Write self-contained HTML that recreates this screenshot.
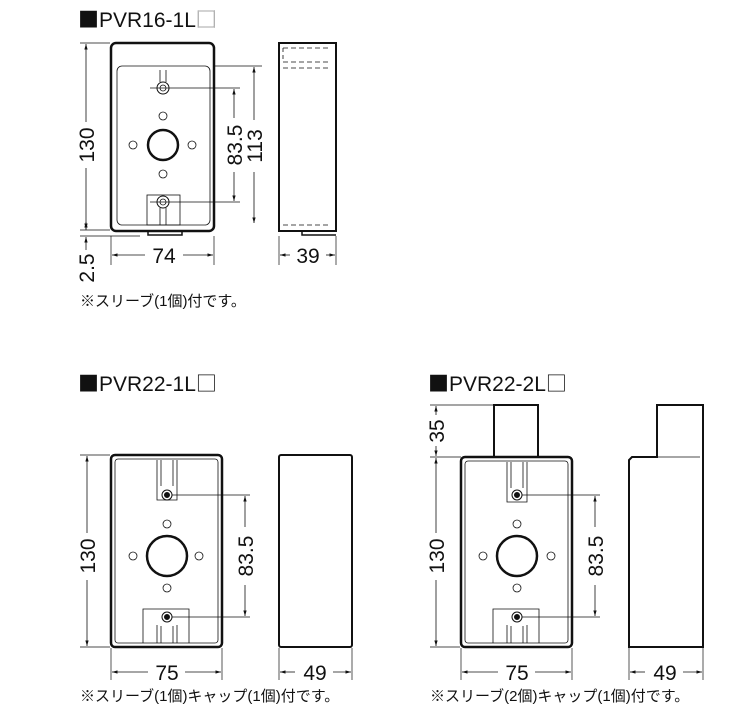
<!DOCTYPE html>
<html><head><meta charset="utf-8"><style>
html,body{margin:0;padding:0;background:#fff;width:750px;height:718px;overflow:hidden}
svg{display:block}
text{font-family:"Liberation Sans","Noto Sans CJK JP",sans-serif;fill:#111}
.n{font-size:21px}
.t{font-size:21px}
.sq{font-family:"Noto Sans CJK JP",sans-serif;font-size:21px}
.j{font-size:15px}
</style></head><body>
<svg width="750" height="718" viewBox="0 0 750 718" xmlns="http://www.w3.org/2000/svg">
<defs>
<marker id="a" viewBox="0 0 10 10" refX="10" refY="5" markerWidth="7" markerHeight="7" orient="auto-start-reverse"><path d="M0,2 L10,5 L0,8 z" fill="#111"/></marker>
</defs>
<g stroke="#111" fill="none">
<rect x="111" y="43" width="103" height="188" rx="5" stroke-width="2.5"/>
<rect x="117" y="66" width="93" height="159" rx="5" stroke-width="0.8"/>
<path d="M148 231 V235 H182 V231" stroke-width="1.5"/>
<rect x="147" y="195" width="33" height="30" stroke-width="0.8"/>
<path d="M160 70V82 M166 70V82 M160 208V225 M166 208V225" stroke-width="0.8"/>
<circle cx="163" cy="88" r="6" stroke-width="1"/><circle cx="163" cy="88" r="3" stroke-width="0.8"/>
<circle cx="163" cy="202" r="6" stroke-width="1"/><circle cx="163" cy="202" r="3" stroke-width="0.8"/>
<circle cx="163" cy="145" r="15" stroke-width="2.5"/>
<circle cx="163" cy="116" r="4" stroke-width="0.8"/><circle cx="163" cy="174" r="4" stroke-width="0.8"/>
<circle cx="133" cy="145" r="4" stroke-width="0.8"/><circle cx="192" cy="145" r="4" stroke-width="0.8"/>
<path d="M279 43 H336 V231 H279 Z" stroke-width="2"/>
<path d="M283 48 H330 M283 62 H330 M283 68 H330 M283 225 H330" stroke-width="0.8" stroke-dasharray="5,3"/>
<path d="M283 48 V62" stroke-width="0.8" stroke-dasharray="4,3"/>
<path d="M302 231 V235 H336" stroke-width="1.5"/>
<path d="M80 43 H110 M80 230 H110 M80 236 H140 M214 66 H262 M150 88 H240 M150 202 H240 M111 236 V265 M214 236 V265 M279 236 V265 M336 236 V265" stroke-width="0.7"/>
<line x1="86" y1="122" x2="86" y2="44" stroke-width="0.8" marker-end="url(#a)"/>
<line x1="86" y1="168" x2="86" y2="229" stroke-width="0.8" marker-end="url(#a)"/>
<line x1="86" y1="222" x2="86" y2="230" stroke-width="0.8" marker-start="url(#a)"/>
<line x1="86" y1="250" x2="86" y2="237" stroke-width="0.8" marker-end="url(#a)"/>
<line x1="254" y1="120" x2="254" y2="67" stroke-width="0.8" marker-end="url(#a)"/>
<line x1="254" y1="172" x2="254" y2="223" stroke-width="0.8" marker-end="url(#a)"/>
<line x1="234" y1="118" x2="234" y2="89" stroke-width="0.8" marker-end="url(#a)"/>
<line x1="234" y1="172" x2="234" y2="201" stroke-width="0.8" marker-end="url(#a)"/>
<line x1="145" y1="255" x2="112" y2="255" stroke-width="0.8" marker-end="url(#a)"/>
<line x1="183" y1="255" x2="213" y2="255" stroke-width="0.8" marker-end="url(#a)"/>
<line x1="290" y1="255" x2="280" y2="255" stroke-width="0.8" marker-end="url(#a)"/>
<line x1="326" y1="255" x2="335" y2="255" stroke-width="0.8" marker-end="url(#a)"/>

<rect x="111" y="455" width="111" height="192" rx="4" stroke-width="2.5"/>
<rect x="115" y="459" width="103" height="184" rx="3" stroke-width="0.8"/>
<path d="M157 460 V500 H177 V460 M161 460 V486 M173 460 V486 M143 643 V609 H189 V643 M157 643 V625 M177 643 V625 M161 643 V626 M173 643 V626" stroke-width="0.8"/>
<circle cx="167" cy="495" r="5" stroke-width="1"/><circle cx="167" cy="495" r="2.5" fill="#111"/>
<circle cx="167" cy="617" r="5" stroke-width="1"/><circle cx="167" cy="617" r="2.5" fill="#111"/>
<circle cx="167" cy="556" r="20" stroke-width="2.5"/>
<circle cx="167" cy="524" r="4" stroke-width="0.8"/><circle cx="167" cy="588" r="4" stroke-width="0.8"/>
<circle cx="133" cy="556" r="4" stroke-width="0.8"/><circle cx="199" cy="556" r="4" stroke-width="0.8"/>
<rect x="279" y="455" width="73" height="192" rx="2" stroke-width="2"/>
<path d="M80 455 H110 M80 647 H110 M172 495 H250 M172 617 H250 M111 648 V680 M222 648 V680 M279 648 V680 M352 648 V680" stroke-width="0.7"/>
<line x1="87" y1="533" x2="87" y2="456" stroke-width="0.8" marker-end="url(#a)"/>
<line x1="87" y1="580" x2="87" y2="646" stroke-width="0.8" marker-end="url(#a)"/>
<line x1="245" y1="527" x2="245" y2="496" stroke-width="0.8" marker-end="url(#a)"/>
<line x1="245" y1="585" x2="245" y2="616" stroke-width="0.8" marker-end="url(#a)"/>
<line x1="148" y1="672" x2="112" y2="672" stroke-width="0.8" marker-end="url(#a)"/>
<line x1="185" y1="672" x2="221" y2="672" stroke-width="0.8" marker-end="url(#a)"/>
<line x1="295" y1="672" x2="280" y2="672" stroke-width="0.8" marker-end="url(#a)"/>
<line x1="333" y1="672" x2="351" y2="672" stroke-width="0.8" marker-end="url(#a)"/>

<path d="M494 457 V405 H538 V457" stroke-width="2"/>
<rect x="461" y="457" width="111" height="190" rx="4" stroke-width="2.5"/>
<rect x="465" y="461" width="103" height="182" rx="3" stroke-width="0.8"/>
<path d="M507 462 V502 H527 V462 M511 462 V488 M523 462 V488 M493 643 V609 H539 V643 M507 643 V625 M527 643 V625 M511 643 V626 M523 643 V626" stroke-width="0.8"/>
<circle cx="517" cy="495" r="5" stroke-width="1"/><circle cx="517" cy="495" r="2.5" fill="#111"/>
<circle cx="517" cy="617" r="5" stroke-width="1"/><circle cx="517" cy="617" r="2.5" fill="#111"/>
<circle cx="517" cy="556" r="20" stroke-width="2.5"/>
<circle cx="517" cy="524" r="4" stroke-width="0.8"/><circle cx="517" cy="588" r="4" stroke-width="0.8"/>
<circle cx="483" cy="556" r="4" stroke-width="0.8"/><circle cx="551" cy="556" r="4" stroke-width="0.8"/>
<path d="M629 647 V460 L632 457 H657 V405 H703 V647 Z" stroke-width="2"/>
<path d="M657 457 H700" stroke-width="0.7"/>
<path d="M430 405 H494 M430 457 H461 M430 647 H460 M522 495 H600 M522 617 H600 M461 648 V680 M572 648 V680 M629 648 V680 M703 648 V680" stroke-width="0.7"/>
<line x1="436" y1="415" x2="436" y2="406" stroke-width="0.8" marker-end="url(#a)"/>
<line x1="436" y1="446" x2="436" y2="456" stroke-width="0.8" marker-end="url(#a)"/>
<line x1="436" y1="533" x2="436" y2="458" stroke-width="0.8" marker-end="url(#a)"/>
<line x1="436" y1="580" x2="436" y2="646" stroke-width="0.8" marker-end="url(#a)"/>
<line x1="595" y1="527" x2="595" y2="496" stroke-width="0.8" marker-end="url(#a)"/>
<line x1="595" y1="585" x2="595" y2="616" stroke-width="0.8" marker-end="url(#a)"/>
<line x1="498" y1="672" x2="462" y2="672" stroke-width="0.8" marker-end="url(#a)"/>
<line x1="535" y1="672" x2="571" y2="672" stroke-width="0.8" marker-end="url(#a)"/>
<line x1="645" y1="672" x2="630" y2="672" stroke-width="0.8" marker-end="url(#a)"/>
<line x1="683" y1="672" x2="702" y2="672" stroke-width="0.8" marker-end="url(#a)"/>
</g>

<text class="t" x="78" y="27"><tspan class="sq">■</tspan>PVR16-1L<tspan class="sq" fill="#fff" stroke="#555" stroke-width="0.3">□</tspan></text>
<text class="t" x="78" y="391"><tspan class="sq">■</tspan>PVR22-1L<tspan class="sq">□</tspan></text>
<text class="t" x="428" y="391"><tspan class="sq">■</tspan>PVR22-2L<tspan class="sq">□</tspan></text>

<text class="n" text-anchor="middle" transform="translate(94,145) rotate(-90)">130</text>
<text class="n" text-anchor="middle" transform="translate(94,268) rotate(-90)">2.5</text>
<text class="n" text-anchor="middle" transform="translate(242,145) rotate(-90)">83.5</text>
<text class="n" text-anchor="middle" transform="translate(262,146) rotate(-90)">113</text>
<text class="n" text-anchor="middle" x="164" y="263">74</text>
<text class="n" text-anchor="middle" x="308" y="263">39</text>
<text class="j" x="80" y="306">※スリーブ(1個)付です。</text>

<text class="n" text-anchor="middle" transform="translate(95,556) rotate(-90)">130</text>
<text class="n" text-anchor="middle" transform="translate(253,556) rotate(-90)">83.5</text>
<text class="n" text-anchor="middle" x="167" y="680">75</text>
<text class="n" text-anchor="middle" x="315" y="680">49</text>
<text class="j" x="80" y="701">※スリーブ(1個)キャップ(1個)付です。</text>

<text class="n" text-anchor="middle" transform="translate(444,431) rotate(-90)">35</text>
<text class="n" text-anchor="middle" transform="translate(444,556) rotate(-90)">130</text>
<text class="n" text-anchor="middle" transform="translate(603,556) rotate(-90)">83.5</text>
<text class="n" text-anchor="middle" x="517" y="680">75</text>
<text class="n" text-anchor="middle" x="665" y="680">49</text>
<text class="j" x="430" y="701">※スリーブ(2個)キャップ(1個)付です。</text>
</svg>
</body></html>
